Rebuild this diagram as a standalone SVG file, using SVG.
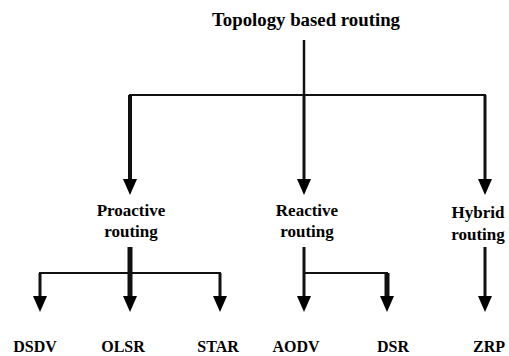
<svg xmlns="http://www.w3.org/2000/svg" width="509" height="356" viewBox="0 0 509 356">
<style>
text{font-weight:bold;fill:#000;text-anchor:middle}
.t{font-size:18px}
.m{font-size:17px}
.b{font-size:16px}
.ln{stroke:#111;fill:none}
</style>
<defs>
<marker id="ah" markerUnits="userSpaceOnUse" markerWidth="16" markerHeight="14" refX="8" refY="7" orient="auto">
<path d="M0,0 L16,7 L0,14 z" fill="#000"/>
</marker>
</defs>
<rect width="509" height="356" fill="#fff"/>
<g id="connectors">
<line class="ln" x1="304" y1="40" x2="304" y2="95" stroke-width="2.5"/>
<line class="ln" x1="129" y1="95" x2="486" y2="95" stroke-width="2"/>
<line class="ln" x1="130" y1="95" x2="130" y2="187" stroke-width="4" marker-end="url(#ah)"/>
<line class="ln" x1="304" y1="95" x2="304" y2="187" stroke-width="3" marker-end="url(#ah)"/>
<line class="ln" x1="485" y1="95" x2="485" y2="187" stroke-width="3" marker-end="url(#ah)"/>
<line class="ln" x1="130" y1="247" x2="130" y2="304" stroke-width="5" marker-end="url(#ah)"/>
<line class="ln" x1="39" y1="273" x2="221" y2="273" stroke-width="2"/>
<line class="ln" x1="40" y1="273" x2="40" y2="304" stroke-width="3" marker-end="url(#ah)"/>
<line class="ln" x1="220" y1="273" x2="220" y2="304" stroke-width="3" marker-end="url(#ah)"/>
<line class="ln" x1="304" y1="247" x2="304" y2="304" stroke-width="3" marker-end="url(#ah)"/>
<line class="ln" x1="304" y1="273" x2="388" y2="273" stroke-width="2"/>
<line class="ln" x1="387" y1="273" x2="387" y2="304" stroke-width="5" marker-end="url(#ah)"/>
<line class="ln" x1="485" y1="247" x2="485" y2="304" stroke-width="3" marker-end="url(#ah)"/>
</g>
<g font-family="Liberation Serif, serif">
<g id="root"><text class="t" x="306" y="26" textLength="188" lengthAdjust="spacingAndGlyphs">Topology based routing</text></g>
<g id="proactive"><text class="m" x="131" y="216">Proactive</text><text class="m" x="131" y="237">routing</text></g>
<g id="reactive"><text class="m" x="307" y="216">Reactive</text><text class="m" x="307" y="237">routing</text></g>
<g id="hybrid"><text class="m" x="478" y="218">Hybrid</text><text class="m" x="478" y="240">routing</text></g>
<g id="dsdv"><text class="b" x="35" y="352">DSDV</text></g>
<g id="olsr"><text class="b" x="123" y="352">OLSR</text></g>
<g id="star"><text class="b" x="218" y="352">STAR</text></g>
<g id="aodv"><text class="b" x="296" y="352">AODV</text></g>
<g id="dsr"><text class="b" x="393" y="352">DSR</text></g>
<g id="zrp"><text class="b" x="489" y="352">ZRP</text></g>
</g>
</svg>
